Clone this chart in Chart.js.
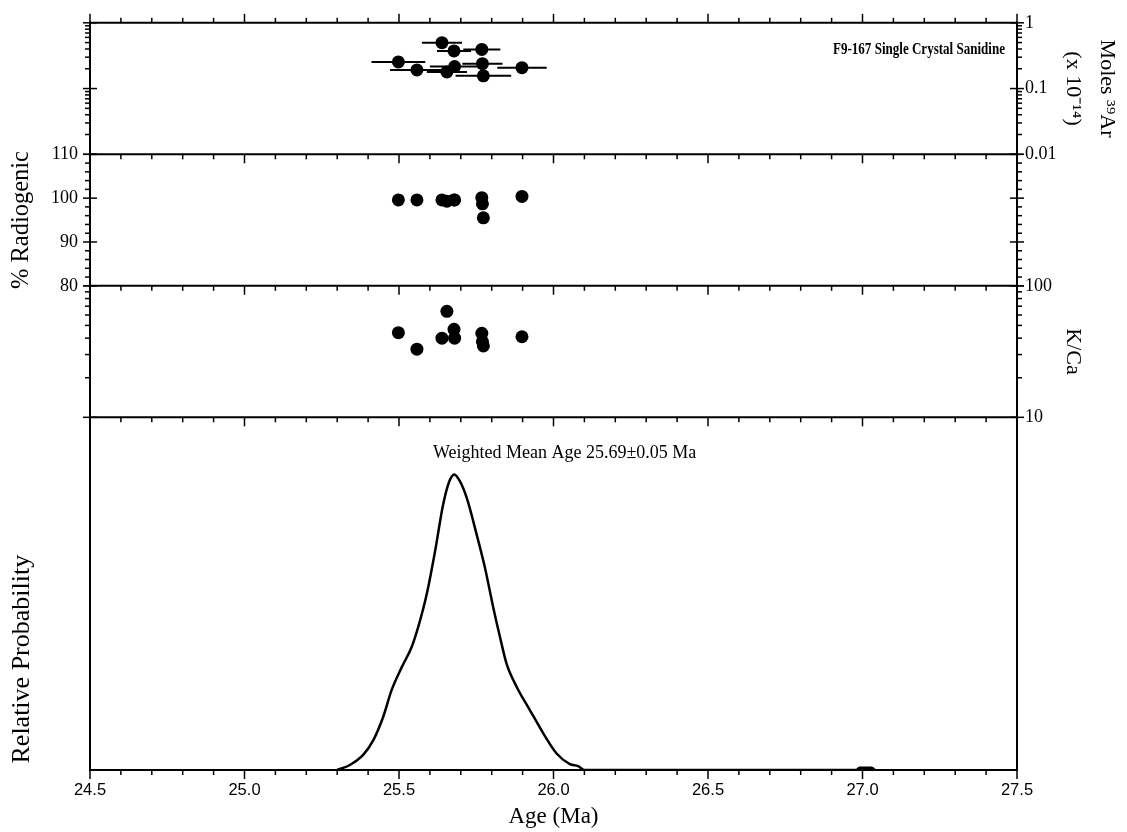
<!DOCTYPE html>
<html><head><meta charset="utf-8">
<script src="https://cdn.jsdelivr.net/npm/chart.js@4.4.1/dist/chart.umd.min.js"></script>
<style>html,body{margin:0;padding:0;background:#fff;} canvas{display:block;}</style>
</head><body>
<canvas id="c" width="1127" height="832"></canvas>
<script>
// ---- data ----
const crystalAges = [25.498, 25.558, 25.639, 25.655, 25.678, 25.680, 25.768, 25.770, 25.773, 25.898];
const ageErrors   = [0.087, 0.087, 0.065, 0.065, 0.055, 0.080, 0.060, 0.065, 0.090, 0.080];
const moles39Ar   = [0.254, 0.192, 0.498, 0.179, 0.373, 0.216, 0.394, 0.239, 0.156, 0.208];
const radiogenic  = [99.6, 99.6, 99.6, 99.3, 99.6, 99.6, 100.1, 98.7, 95.5, 100.4];
const kCa         = [44, 33, 40, 64, 46.7, 40, 43.6, 37.7, 34.9, 41];

const probAges   = [25.30, 25.341, 25.384, 25.417, 25.449, 25.476, 25.509, 25.541, 25.562, 25.590, 25.617, 25.643, 25.663, 25.679, 25.697, 25.719, 25.751, 25.778, 25.805, 25.827, 25.848, 25.881, 25.924, 25.967, 26.010, 26.053, 26.080, 26.10, 26.98, 26.99, 27.03, 27.04];
const probValues = [0, 0.017, 0.051, 0.101, 0.180, 0.270, 0.348, 0.416, 0.483, 0.596, 0.742, 0.899, 0.977, 1.0, 0.977, 0.921, 0.798, 0.685, 0.550, 0.449, 0.360, 0.281, 0.202, 0.124, 0.056, 0.020, 0.013, 0, 0, 0.008, 0.008, 0];

const xTickValues = [24.5, 25.0, 25.5, 26.0, 26.5, 27.0, 27.5];
const xTickLabels = ['24.5', '25.0', '25.5', '26.0', '26.5', '27.0', '27.5'];
const molesTicks = [0.01, 0.1, 1];
const molesTickLabels = ['0.01', '0.1', '1'];
const radiogenicTicks = [80, 90, 100, 110];
const radiogenicTickLabels = ['80', '90', '100', '110'];
const kCaTicks = [10, 100];
const kCaTickLabels = ['10', '100'];
const molesMinor = [0.02,0.03,0.04,0.05,0.06,0.07,0.08,0.09,0.2,0.3,0.4,0.5,0.6,0.7,0.8,0.9];
const radiogenicMinor = [82,84,86,88,92,94,96,98,102,104,106,108];
const kCaMinor = [20,30,40,50,60,70,80,90];

const sampleLabel = 'F9-167 Single Crystal Sanidine';
const meanLabel = 'Weighted Mean Age 25.69\u00b10.05 Ma';

// ---- chart ----
const serif = '"Liberation Serif", "Times New Roman", serif';
const sans = '"Liberation Sans", Arial, sans-serif';

const errorBarPoints = [];
crystalAges.forEach((a, i) => {
  errorBarPoints.push({x: a - ageErrors[i], y: moles39Ar[i]}, {x: a + ageErrors[i], y: moles39Ar[i]}, {x: a, y: null});
});
const pts = (ys) => crystalAges.map((a, i) => ({x: a, y: ys[i]}));
const probData = probAges.map((a, i) => ({x: a, y: probValues[i]}));

const noGrid = {display: false, drawTicks: false};
const noBorder = {display: false};
const setTicks = (vals) => (s) => { s.ticks = vals.map(v => ({value: v})); };
const fixW = (w) => (s) => { s.width = w; };

function yAxis(o) {
  return Object.assign({
    grid: noGrid, border: noBorder, afterFit: fixW(o.position === 'right' ? 110 : 90)
  }, o);
}

const decor = {
  id: 'decor',
  afterDatasetsDraw(chart) {
    const {ctx, chartArea: ca, scales: s} = chart;
    ctx.save();
    ctx.strokeStyle = '#000';
    const line = (x1, y1, x2, y2, w) => { ctx.lineWidth = w; ctx.beginPath(); ctx.moveTo(x1, y1); ctx.lineTo(x2, y2); ctx.stroke(); };
    const rules = [
      {y: ca.top, dir: -1}, {y: s.yMoles.bottom, dir: 1}, {y: s.yRad.bottom, dir: 1},
      {y: s.yKca.bottom, dir: 1}, {y: ca.bottom, dir: 1}
    ];
    rules.forEach(r => {
      line(ca.left - 1, r.y, ca.right + 1, r.y, 2);
      for (let i = 0; i <= 30; i++) {
        const px = s.x.getPixelForValue(24.5 + i * 0.1);
        line(px, r.y, px, r.y + r.dir * (i % 5 === 0 ? 9 : 5), 1.5);
      }
    });
    line(ca.left, ca.top - 1, ca.left, ca.bottom + 1, 2);
    line(ca.right, ca.top - 1, ca.right, ca.bottom + 1, 2);
    [[s.yMoles, molesMinor, molesTicks], [s.yRad, radiogenicMinor, radiogenicTicks], [s.yKca, kCaMinor, kCaTicks]].forEach(([sc, minor, major]) => {
      minor.forEach(v => { const py = sc.getPixelForValue(v); line(ca.left - 5, py, ca.left, py, 1.5); line(ca.right, py, ca.right + 5, py, 1.5); });
      major.forEach(v => { const py = sc.getPixelForValue(v); line(ca.left - 7, py, ca.left + 7, py, 1.5); line(ca.right - 7, py, ca.right + 7, py, 1.5); });
    });
    ctx.fillStyle = '#000';
    ctx.textBaseline = 'middle';
    ctx.font = 'bold 17px ' + serif;
    ctx.textAlign = 'right';
    ctx.fillText(sampleLabel, ca.right - 12, s.yMoles.getPixelForValue(0.39), 172);
    ctx.font = '18px ' + serif;
    ctx.textAlign = 'left';
    ctx.fillText(meanLabel, s.x.getPixelForValue(25.61), s.yProb.getPixelForValue(1.072));
    ctx.restore();
  }
};

new Chart(document.getElementById('c'), {
  type: 'scatter',
  data: {
    datasets: [
      {data: errorBarPoints, yAxisID: 'yMoles', showLine: true, spanGaps: false, borderColor: '#000', borderWidth: 2, pointRadius: 0},
      {data: pts(moles39Ar), yAxisID: 'yMoles', backgroundColor: '#000', borderWidth: 0, pointRadius: 6.5},
      {data: pts(radiogenic), yAxisID: 'yRad', backgroundColor: '#000', borderWidth: 0, pointRadius: 6.5},
      {data: pts(kCa), yAxisID: 'yKca', backgroundColor: '#000', borderWidth: 0, pointRadius: 6.5},
      {data: probData, yAxisID: 'yProb', showLine: true, borderColor: '#000', borderWidth: 2.5, pointRadius: 0, cubicInterpolationMode: 'monotone'}
    ]
  },
  options: {
    responsive: false, animation: false, devicePixelRatio: 1,
    layout: {padding: {top: 20, left: 0, right: 0, bottom: 0}},
    plugins: {legend: {display: false}, tooltip: {enabled: false}},
    scales: {
      x: {type: 'linear', position: 'bottom', min: 24.5, max: 27.5,
        afterBuildTicks: setTicks(xTickValues),
        ticks: {callback: (v, i) => xTickLabels[i], font: {family: sans, size: 16.5}, color: '#000', padding: 11, maxRotation: 0, autoSkip: false},
        grid: noGrid, border: noBorder,
        title: {display: true, text: 'Age (Ma)', font: {family: serif, size: 23}, color: '#000', padding: {top: 0, bottom: 1}},
        afterFit: (s) => { s.height = 62; }},
      // left stack is laid out bottom-up, so list bottom panel first
      yProb: yAxis({type: 'linear', position: 'left', stack: 'L', stackWeight: 354, min: 0, max: 1.193, ticks: {display: false},
        title: {display: true, text: ' Relative Probability', align: 'start', font: {family: serif, size: 26}, color: '#000', padding: {top: 7, bottom: 0}}}),
      yKca: yAxis({type: 'logarithmic', position: 'left', stack: 'L', stackWeight: 132, min: 10, max: 100, ticks: {display: false}}),
      yRad: yAxis({type: 'linear', position: 'left', stack: 'L', stackWeight: 132, min: 80, max: 110,
        afterBuildTicks: setTicks(radiogenicTicks),
        ticks: {callback: (v, i) => radiogenicTickLabels[i], font: {family: serif, size: 18}, color: '#000', padding: 12, autoSkip: false},
        title: {display: true, text: '% Radiogenic', font: {family: serif, size: 24.5}, color: '#000', padding: {top: 7, bottom: 0}}}),
      yMoles: yAxis({type: 'logarithmic', position: 'left', stack: 'L', stackWeight: 132, min: 0.01, max: 1, ticks: {display: false}}),
      yMolesR: yAxis({type: 'logarithmic', position: 'right', stack: 'R', stackWeight: 132, min: 0.01, max: 1,
        afterBuildTicks: setTicks(molesTicks),
        ticks: {callback: (v, i) => molesTickLabels[i], font: {family: serif, size: 18}, color: '#000', padding: 8, autoSkip: false},
        title: {display: true, text: ['Moles \u00b3\u2079Ar', '(x 10\u207b\u00b9\u2074)'], font: {family: serif, size: 22, lineHeight: 1.55}, color: '#000', padding: {top: 3, bottom: 0}}}),
      yRadR: yAxis({type: 'linear', position: 'right', stack: 'R', stackWeight: 132, min: 80, max: 110, ticks: {display: false}}),
      yKcaR: yAxis({type: 'logarithmic', position: 'right', stack: 'R', stackWeight: 132, min: 10, max: 100,
        afterBuildTicks: setTicks(kCaTicks),
        ticks: {callback: (v, i) => kCaTickLabels[i], font: {family: serif, size: 18}, color: '#000', padding: 8, autoSkip: false},
        title: {display: true, text: ['', 'K/Ca'], font: {family: serif, size: 22, lineHeight: 1.55}, color: '#000', padding: {top: 3, bottom: 0}}}),
      yProbR: yAxis({type: 'linear', position: 'right', stack: 'R', stackWeight: 354, min: 0, max: 1.193, ticks: {display: false}})
    }
  },
  plugins: [decor]
});
</script>
</body></html>
